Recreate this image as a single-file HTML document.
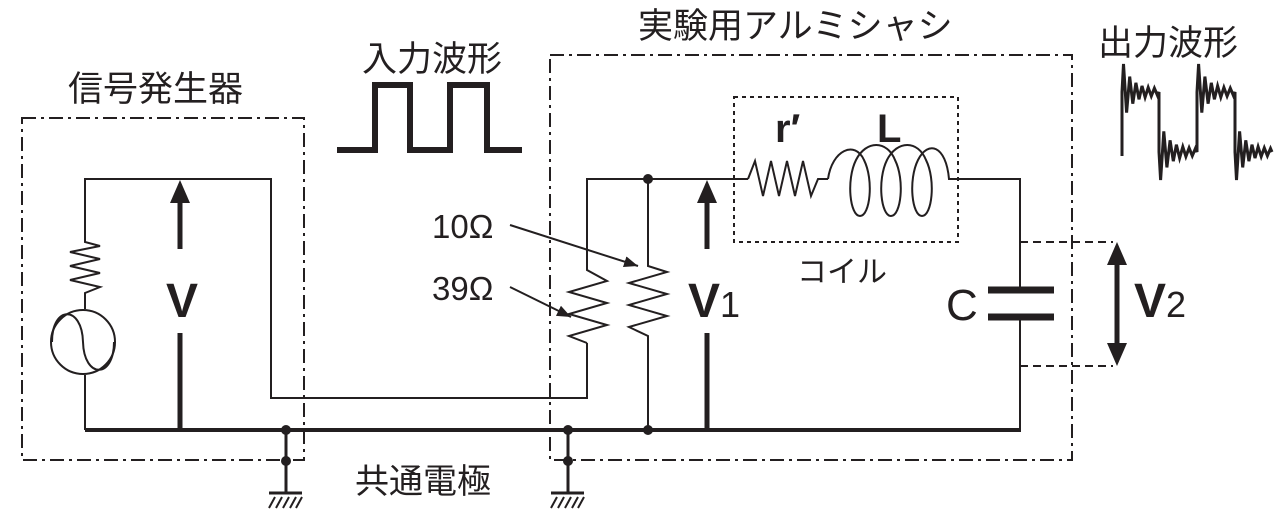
<!DOCTYPE html>
<html><head><meta charset="utf-8"><style>
html,body{margin:0;padding:0;background:#fff;}
svg{display:block;}
text{font-family:"Liberation Sans Narrow","Liberation Sans","Noto Sans CJK JP",sans-serif;fill:#231f20;}
.jp{font-family:"Liberation Sans","Noto Sans CJK JP",sans-serif;}
</style></head><body>
<svg id="s" width="1284" height="519" viewBox="0 0 1284 519" xmlns="http://www.w3.org/2000/svg">
<defs>
<marker id="ah" viewBox="0 0 10 10" refX="10" refY="5" markerWidth="7" markerHeight="7" orient="auto"><path d="M0,1 L10,5 L0,9 z" fill="#231f20"/></marker>
</defs>
<g stroke="#231f20" fill="none">
<rect x="22" y="118" width="282" height="342" stroke-width="2" stroke-dasharray="14,5,3,5"/>
<rect x="550" y="55" width="522" height="405" stroke-width="2" stroke-dasharray="14,5,3,5"/>
<rect x="734" y="97" width="224" height="145" stroke-width="2" stroke-dasharray="4,4"/>
<path d="M337,150 H375 V85 H410 V150 H450 V85 H487 V150 H522" stroke-width="6"/>
<path d="M85,430 V375 M85,309 V293 L100,287 L70,280 L100,273 L70,266 L100,259 L70,252 L100,246 L85,242 V179 H271 V398 H587 V343" stroke-width="2"/>
<circle cx="83" cy="342" r="32" stroke-width="2"/>
<path d="M52,342 C52,305 82,305 83,342 C84,379 114,379 114,342" stroke-width="2"/>
<path d="M587,343 L569,336 L607,325 L569,314 L607,303 L569,292 L607,281 L587,270 V179 H748" stroke-width="2"/>
<path d="M648,179 V266 L667,272 L629,283 L667,294 L629,305 L667,316 L629,327 L648,336 V430" stroke-width="2"/>
<path d="M748,179 L755,161 L763,196 L771,161 L779,196 L787,161 L795,196 L803,161 L811,196 L818,179 H828" stroke-width="2"/>
<path d="M828,179 C832,150 855,140 864,160 C874,180 870,216 860,216 C850,216 846,180 856,160 C866,140 887,140 895,160 C905,180 901,216 891,216 C881,216 877,180 887,160 C897,140 918,140 926,160 C936,180 932,216 922,216 C912,216 908,180 918,160 C928,140 946,145 949,179 H1020 V290 M1020,317 V430" stroke-width="2"/>
<path d="M988,290 H1054 M988,317 H1054" stroke-width="7"/>
<path d="M1020,242 H1113 M1020,366 H1113" stroke-width="2" stroke-dasharray="8,5"/>
<path d="M1117,260 V348" stroke-width="5"/>
<path d="M85,430 H1021" stroke-width="4"/>
<path d="M180,249 V200" stroke-width="5"/>
<path d="M180,333 V430" stroke-width="5"/>
<path d="M707,249 V200" stroke-width="5"/>
<path d="M707,333 V430" stroke-width="5"/>
<path d="M286,430 V493 M568,430 V493" stroke-width="3"/>
<path d="M269,493 H302 M551,493 H584" stroke-width="3"/>
<path d="M275,497 L269,508 M282,497 L276,508 M289,497 L283,508 M296,497 L290,508 M302,497 L296,508 M557,497 L551,508 M564,497 L558,508 M571,497 L565,508 M578,497 L572,508 M584,497 L578,508" stroke-width="2"/>
<path d="M510,225 L638,266" stroke-width="2" marker-end="url(#ah)"/>
<path d="M510,287 L571,317" stroke-width="2" marker-end="url(#ah)"/>
<path id="ow" stroke-width="3"/>
</g>
<g fill="#231f20">
<path d="M180,180 L170,203 L190,203 z"/>
<path d="M707,180 L697,203 L717,203 z"/>
<path d="M1117,242 L1107,265 L1127,265 z"/>
<path d="M1117,366 L1107,343 L1127,343 z"/>
<circle cx="648" cy="179" r="5"/>
<circle cx="648" cy="430" r="5"/>
<circle cx="286" cy="430" r="5"/><circle cx="286" cy="461" r="5"/>
<circle cx="568" cy="430" r="5"/><circle cx="568" cy="461" r="5"/>
</g>
<text class="jp" x="68" y="101" font-size="35">信号発生器</text>
<text class="jp" x="638" y="38" font-size="35">実験用アルミシャシ</text>
<text class="jp" x="362" y="71" font-size="35">入力波形</text>
<text class="jp" x="1098" y="55" font-size="35">出力波形</text>
<text class="jp" x="355" y="493" font-size="34">共通電極</text>
<text class="jp" x="797" y="282" font-size="30">コイル</text>
<text x="432" y="238" font-size="33">10Ω</text>
<text x="432" y="300" font-size="33">39Ω</text>
<text x="166" y="317" font-size="48" font-weight="bold">V</text>
<text x="688" y="317" font-size="48" font-weight="bold">V<tspan font-size="36" font-weight="normal">1</tspan></text>
<text x="1134" y="317" font-size="48" font-weight="bold">V<tspan font-size="36" font-weight="normal">2</tspan></text>
<text x="946" y="320" font-size="44">C</text>
<text x="775" y="142" font-size="40" font-weight="bold">r′</text>
<text x="877" y="142" font-size="40" font-weight="bold">L</text>
</svg>
<script>
(function(){
var d="M1122,156 V92";
function seg(x0,x1,lvl,sign){
 var s="",n=12;
 for(var i=0;i<n;i++){
  var x=x0+(x1-x0)*(i+0.5)/n, a=25*Math.exp(-i*0.35)+3;
  var y=lvl+sign*(i%2==0?-a:a);
  s+=" L"+x.toFixed(1)+","+y.toFixed(1);
 }
 return s+" L"+x1+","+lvl;
}
d+=seg(1122,1159,92,1)+" V152"+seg(1159,1197,152,-1)+" V92"+seg(1197,1235,92,1)+" V152"+seg(1235,1272,152,-1);
document.getElementById("ow").setAttribute("d",d);
})();
</script>
</body></html>
